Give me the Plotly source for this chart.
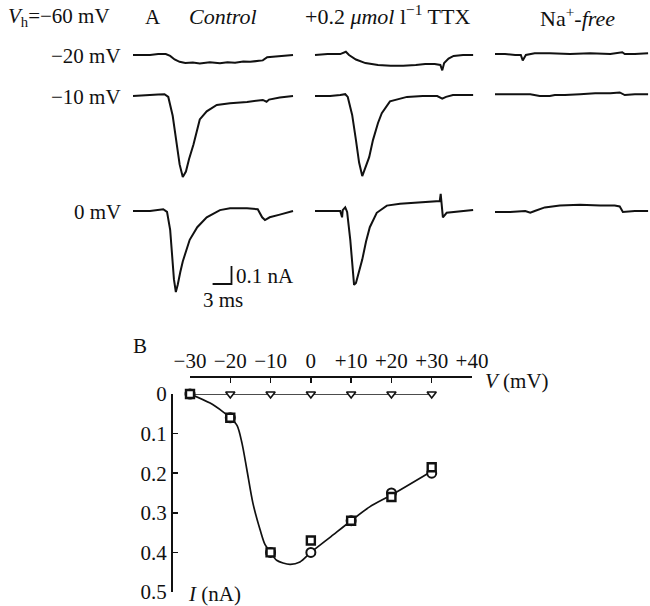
import plotly.graph_objects as go

# ---------------- Panel A: membrane current traces ----------------
# time (ms) from the start of each sweep, current (nA, inward negative)
t_ctl_m20 = [0, 2.7, 4.0, 5.2, 5.9, 6.6, 7.4, 8.3, 9.5, 10.6, 12.2, 13.8, 15.0, 16.2, 17.5, 18.6, 20.0, 20.6, 21.3, 22.5, 24.1, 25.4]
i_ctl_m20 = [0, 0.0, 0.005, 0.005, -0.005, -0.025, -0.038, -0.045, -0.042, -0.047, -0.04, -0.046, -0.04, -0.043, -0.036, -0.038, -0.032, -0.03, -0.012, -0.008, -0.006, 0.0]

t_ctl_m10 = [0, 2.0, 4.0, 5.0, 5.6, 6.3, 6.9, 7.4, 7.9, 8.4, 8.9, 9.6, 10.6, 11.7, 13.3, 15.4, 18.1, 20.6, 21.2, 21.6, 23.3, 25.4]
i_ctl_m10 = [0, 0.002, 0.008, 0.01, -0.005, -0.11, -0.25, -0.38, -0.45, -0.42, -0.35, -0.27, -0.13, -0.085, -0.05, -0.04, -0.033, -0.022, -0.032, -0.02, -0.008, 0.0]

t_ctl_0 = [0, 2.7, 4.8, 5.4, 5.9, 6.2, 6.5, 6.8, 7.1, 7.5, 7.9, 9.0, 10.2, 11.7, 13.8, 15.4, 18.1, 19.8, 20.5, 20.95, 21.7, 23.3, 25.4]
i_ctl_0 = [0, 0.0, 0.01, -0.005, -0.105, -0.24, -0.38, -0.45, -0.41, -0.34, -0.28, -0.16, -0.09, -0.035, 0.005, 0.015, 0.015, 0.01, -0.035, -0.05, -0.035, -0.02, 0.0]

t_ttx_m20 = [0, 2.0, 4.0, 4.6, 4.9, 5.4, 6.5, 8.0, 10.0, 12.0, 14.0, 16.0, 17.5, 19.0, 19.9, 20.2, 20.5, 21.2, 22.0, 23.5, 25.1]
i_ttx_m20 = [0, 0.005, 0.005, 0.012, 0.018, 0.0, -0.025, -0.045, -0.055, -0.06, -0.06, -0.055, -0.05, -0.05, -0.055, -0.085, -0.045, -0.02, -0.005, 0.0, 0.0]

t_ttx_m10 = [0, 2.4, 4.0, 4.8, 5.2, 5.9, 6.5, 7.0, 7.5, 7.9, 8.6, 9.2, 10.0, 10.6, 11.9, 14.6, 17.1, 19.4, 20.2, 20.8, 21.9, 25.1]
i_ttx_m10 = [0, 0.0, 0.005, 0.01, -0.005, -0.105, -0.245, -0.37, -0.445, -0.41, -0.34, -0.245, -0.15, -0.095, -0.03, -0.005, 0.0, 0.0, -0.015, -0.005, 0.005, 0.005]

t_ttx_0 = [0, 2.4, 4.0, 4.3, 4.4, 4.8, 5.1, 5.6, 5.9, 6.2, 6.5, 7.0, 7.5, 8.1, 8.7, 9.8, 11.4, 13.5, 17.1, 19.8, 19.95, 20.3, 20.9, 22.5, 25.1]
i_ttx_0 = [0, 0.0, 0.0, -0.035, 0.005, 0.02, -0.005, -0.16, -0.3, -0.41, -0.4, -0.34, -0.27, -0.17, -0.09, -0.01, 0.03, 0.04, 0.05, 0.055, 0.095, -0.035, -0.01, -0.005, 0.005]

t_naf_m20 = [0, 1.6, 3.2, 4.1, 4.4, 4.9, 6.3, 8.7, 11.9, 15.1, 18.3, 20.2, 20.6, 22.2, 24.3]
i_naf_m20 = [0.005, 0.005, 0.0, 0.0, -0.03, 0.0, 0.01, 0.01, 0.005, 0.01, 0.005, 0.015, 0.005, 0.005, 0.01]

t_naf_m10 = [0, 2.4, 5.6, 7.1, 8.7, 9.5, 11.1, 13.5, 15.9, 18.3, 19.8, 20.6, 22.2, 24.3]
i_naf_m10 = [0.01, 0.01, 0.01, 0.0, 0.0, 0.005, 0.005, 0.01, 0.015, 0.015, 0.02, 0.005, 0.01, 0.01]

t_naf_0 = [0, 2.4, 4.8, 5.6, 6.3, 7.9, 10.3, 13.5, 16.7, 19.0, 19.8, 20.3, 22.2, 24.3]
i_naf_0 = [-0.005, -0.005, 0.0, -0.01, 0.0, 0.02, 0.03, 0.035, 0.03, 0.03, 0.025, -0.005, 0.0, 0.0]

scale_ms = 3      # time calibration bar
scale_na = 0.1    # current calibration bar

row_labels = ["\u221220 mV", "\u221210 mV", "0 mV"]
col_labels = ["<i>Control</i>", "+0.2 <i>\u03bcmol</i> l<sup>\u22121</sup> TTX", "Na<sup>+</sup><i>-free</i>"]

# ---------------- Panel B: peak current vs voltage ----------------
v_mv = [-30, -20, -10, 0, 10, 20, 30]
i_control = [0.0, 0.06, 0.40, 0.37, 0.32, 0.26, 0.185]
i_ttx = [0.0, 0.06, 0.40, 0.40, 0.32, 0.25, 0.20]
i_nafree = [0.0, 0.0, 0.0, 0.0, 0.0, 0.0, 0.0]
curve_v = [-30, -25, -21.8, -20, -18.3, -17.1, -15.9, -14.4, -12.6, -11.4, -10, -8.5, -5.2, -2.7, 0, 5, 10, 14.6, 20, 30]
curve_i = [0, 0.023, 0.045, 0.06, 0.08, 0.124, 0.19, 0.275, 0.343, 0.38, 0.40, 0.42, 0.43, 0.424, 0.40, 0.36, 0.32, 0.285, 0.255, 0.195]
xtick_vals = [-30, -20, -10, 0, 10, 20, 30, 40]
xtick_text = ["\u221230", "\u221220", "\u221210", "0", "+10", "+20", "+30", "+40"]
ytick_vals = [0, 0.1, 0.2, 0.3, 0.4, 0.5]
ytick_text = ["0", "0.1", "0.2", "0.3", "0.4", "0.5"]

# ---------------- layout constants (pixels) ----------------
W, H = 650, 606
PX_MS = 6.3
PX_NA = 180.0
col_x0 = [133, 315, 495]
row_y0 = [55, 96, 211]
FONT = "Liberation Serif"
INK = "#111111"

fig = go.Figure()

def add_trace_A(t, i, col, row):
    fig.add_trace(go.Scatter(
        x=[col_x0[col] / PX_MS + v for v in t],
        y=[-row_y0[row] / PX_NA + v for v in i],
        mode="lines", line=dict(color=INK, width=2),
        xaxis="x", yaxis="y", hoverinfo="skip", showlegend=False))

traces = [
    (t_ctl_m20, i_ctl_m20, 0, 0), (t_ctl_m10, i_ctl_m10, 0, 1), (t_ctl_0, i_ctl_0, 0, 2),
    (t_ttx_m20, i_ttx_m20, 1, 0), (t_ttx_m10, i_ttx_m10, 1, 1), (t_ttx_0, i_ttx_0, 1, 2),
    (t_naf_m20, i_naf_m20, 2, 0), (t_naf_m10, i_naf_m10, 2, 1), (t_naf_0, i_naf_0, 2, 2),
]
for t, i, c, r in traces:
    add_trace_A(t, i, c, r)

# calibration bar
bx, by = 231.5 / PX_MS, -284 / PX_NA
fig.add_trace(go.Scatter(
    x=[bx - scale_ms, bx, bx], y=[by, by, by + scale_na],
    mode="lines", line=dict(color=INK, width=1.8),
    xaxis="x", yaxis="y", hoverinfo="skip", showlegend=False))

# Panel B traces
fig.add_trace(go.Scatter(x=curve_v, y=curve_i, mode="lines",
                         line=dict(color=INK, width=1.7, shape="spline", smoothing=0.8),
                         xaxis="x2", yaxis="y2", cliponaxis=False, showlegend=False))
fig.add_trace(go.Scatter(x=v_mv, y=i_nafree, mode="lines+markers",
                         line=dict(color=INK, width=1.4),
                         marker=dict(symbol="triangle-down", size=8, color="white",
                                     line=dict(color=INK, width=1.6)),
                         xaxis="x2", yaxis="y2", cliponaxis=False, showlegend=False))
fig.add_trace(go.Scatter(x=v_mv, y=i_ttx, mode="markers",
                         marker=dict(symbol="circle", size=9, color="white",
                                     line=dict(color=INK, width=2)),
                         xaxis="x2", yaxis="y2", cliponaxis=False, showlegend=False))
fig.add_trace(go.Scatter(x=v_mv, y=i_control, mode="markers",
                         marker=dict(symbol="square", size=8, color="white",
                                     line=dict(color=INK, width=2.4)),
                         xaxis="x2", yaxis="y2", cliponaxis=False, showlegend=False))

def px(x):
    return x / W

def py(y):
    return 1 - y / H

ann = []
def text(s, x, y, size=21, xanchor="center"):
    ann.append(dict(text=s, x=px(x), y=py(y), xref="paper", yref="paper",
                    xanchor=xanchor, yanchor="middle", showarrow=False,
                    font=dict(family=FONT, size=size, color=INK)))

text("<i>V</i><sub>h</sub>=\u221260 mV", 6, 17, xanchor="left")
text("A", 153, 17)
text(col_labels[0], 223, 17, size=22)
text(col_labels[1], 387, 15, size=22)
text(col_labels[2], 577, 17, size=22)
for lab, y in zip(row_labels, row_y0):
    text(lab, 123, y + 1, xanchor="right")
text("0.1 nA", 234, 276, xanchor="left")
text("3 ms", 223, 300)
text("B", 140, 346)
text("<i>V</i> (mV)", 483, 381, xanchor="left")
text("<i>I</i> (nA)", 186, 594, xanchor="left")

axfont = dict(family=FONT, size=21, color=INK)
fig.update_layout(
    width=W, height=H, margin=dict(l=0, r=0, t=0, b=0, pad=0, autoexpand=False),
    paper_bgcolor="white", plot_bgcolor="rgba(0,0,0,0)",
    xaxis=dict(domain=[0, 1], range=[0, W / PX_MS], visible=False, fixedrange=True,
               automargin=False),
    yaxis=dict(domain=[0, 1], range=[-H / PX_NA, 0], visible=False, fixedrange=True,
               automargin=False),
    xaxis2=dict(domain=[px(190), px(472)], range=[-30, 40], side="top",
                anchor="free", position=py(376), automargin=False,
                showline=True, linecolor=INK, linewidth=1.6,
                ticks="inside", ticklen=5, tickwidth=1.5, tickcolor=INK,
                tickvals=xtick_vals, ticktext=xtick_text, tickfont=axfont,
                showgrid=False, zeroline=False),
    yaxis2=dict(domain=[py(592), py(394)], range=[0.5, 0],
                anchor="free", position=px(171), automargin=False,
                showline=True, linecolor=INK, linewidth=1.6,
                ticks="inside", ticklen=5, tickwidth=1.5, tickcolor=INK,
                tickvals=ytick_vals, ticktext=ytick_text, tickfont=axfont,
                showgrid=False, zeroline=False),
    annotations=ann,
)

fig.write_html("out.html", config={"displayModeBar": False, "staticPlot": True},
               post_script="document.body.style.margin='0';document.body.style.overflow='hidden';")
